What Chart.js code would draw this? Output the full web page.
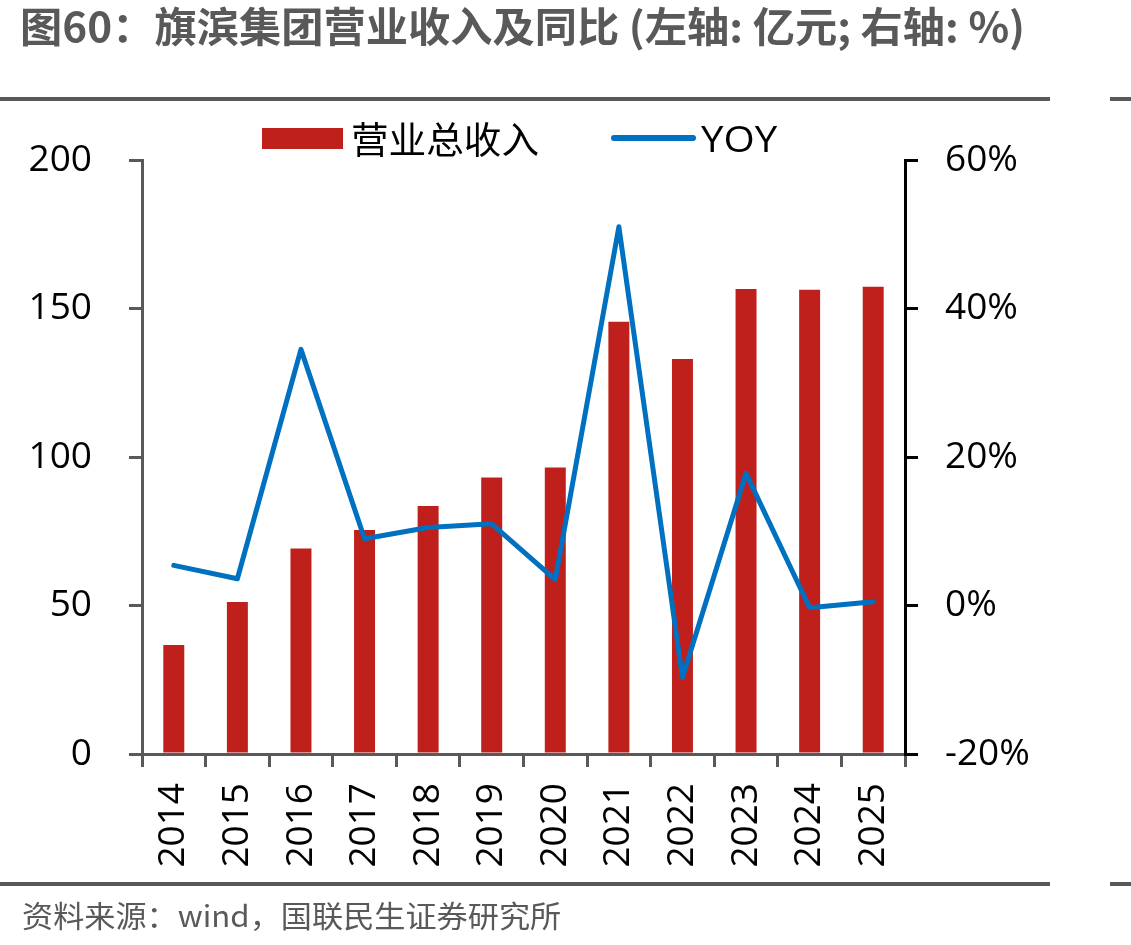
<!DOCTYPE html>
<html>
  <head>
    <meta charset="UTF-8">
    <title>旗滨集团营业收入及同比</title>
    <script src="https://cdn.jsdelivr.net/npm/chart.js"></script>
    <style>
      html, body { margin: 0; padding: 0; background: #fff; }
      #wrap { position: relative; width: 1131px; height: 945px; overflow: hidden; }
      #chart { position: absolute; left: 0; top: 0; }
      .title { position: absolute; left: 20px; top: 0; font: bold 41px "Noto Sans CJK SC"; line-height: 48px; color: #595959; white-space: nowrap; transform-origin: 0 0; }
      .rule { position: absolute; height: 4px; background: #595959; }
      .source { position: absolute; left: 22px; top: 897px; font: 30px "Noto Sans CJK SC"; line-height: 34px; color: #595959; white-space: nowrap; transform-origin: 0 0; }
      .lg-box { position: absolute; left: 262px; top: 128px; width: 81px; height: 21px; background: #C0201C; }
      .lg-line { position: absolute; left: 611px; top: 135px; width: 85px; height: 6px; border-radius: 3px; background: #0070C0; }
      .lg-text { position: absolute; top: 115px; font-size: 37px; line-height: 46px; color: #000; white-space: nowrap; transform-origin: 0 0; }
    </style>
  </head>
  <body>
    <div id="wrap">
      <canvas id="chart" width="1131" height="945"></canvas>
      <div class="title" id="title">图60：旗滨集团营业收入及同比 (左轴: 亿元; 右轴: %)</div>
      <div class="rule" style="left:0; top:97px; width:1050px;"></div>
      <div class="rule" style="left:1110px; top:97px; width:21px;"></div>
      <div class="rule" style="left:0; top:882px; width:1050px;"></div>
      <div class="rule" style="left:1110px; top:882px; width:21px;"></div>
      <div class="source" id="source">资料来源：wind，国联民生证券研究所</div>
      <div class="lg-box"></div>
      <div class="lg-text" id="lg1" style="left:351px; font-family:'Noto Sans CJK SC';">营业总收入</div>
      <div class="lg-line"></div>
      <div class="lg-text" id="lg2" style="left:701px; font-family:'Open Sans';">YOY</div>
    </div>

    <script>
      // データ
      var years = ['2014', '2015', '2016', '2017', '2018', '2019', '2020', '2021', '2022', '2023', '2024', '2025'];
      var revenue = [36.7, 51.2, 69.2, 75.4, 83.5, 93.1, 96.5, 145.5, 133.0, 156.6, 156.3, 157.3];
      var yoy = [5.4, 3.6, 34.5, 9.0, 10.5, 11.0, 3.5, 51.0, -9.7, 17.8, -0.3, 0.5];
      var leftTicks = [0, 50, 100, 150, 200];
      var rightTicks = [-20, 0, 20, 40, 60];

      // タイトル・出典・凡例の幅を合わせる
      function fitWidth(id, w) {
        var el = document.getElementById(id);
        el.style.transform = 'scaleX(' + (w / el.offsetWidth) + ')';
      }
      fitWidth('title', 1005);
      fitWidth('source', 539);
      fitWidth('lg1', 188);
      fitWidth('lg2', 76);

      var tickFont = { family: 'Open Sans', size: 37 };
      var gray = '#595959';

      var ctx = document.getElementById('chart').getContext('2d');
      var chart = new Chart(ctx, {
        data: {
          labels: years,
          datasets: [
            {
              type: 'line',
              label: 'YOY',
              data: yoy,
              yAxisID: 'y2',
              borderColor: '#0070C0',
              borderWidth: 5,
              pointRadius: 0,
              tension: 0,
              borderJoinStyle: 'round',
              borderCapStyle: 'round',
              order: 0
            },
            {
              type: 'bar',
              label: '营业总收入',
              data: revenue,
              yAxisID: 'y',
              backgroundColor: '#C0201C',
              categoryPercentage: 1,
              barPercentage: 0.33,
              order: 1
            }
          ]
        },
        options: {
          responsive: false,
          animation: false,
          layout: { padding: { top: 160, left: 0, right: 0, bottom: 0 } },
          plugins: { legend: { display: false }, tooltip: { enabled: false } },
          scales: {
            x: {
              offset: true,
              grid: { display: true, offset: true, drawOnChartArea: false, drawTicks: true, tickLength: 13, color: gray, lineWidth: 3 },
              border: { display: true, color: gray, width: 3 },
              ticks: { font: tickFont, color: '#000', minRotation: 90, maxRotation: 90, padding: 16, autoSkip: false },
              afterFit: function(scale) { scale.height = 191; }
            },
            y: {
              position: 'left',
              min: 0, max: 200,
              afterBuildTicks: function(scale) { scale.ticks = leftTicks.map(function(v) { return { value: v }; }); },
              grid: { display: true, drawOnChartArea: false, drawTicks: true, tickLength: 13, color: gray, lineWidth: 3 },
              border: { display: true, color: gray, width: 3 },
              ticks: { font: tickFont, color: '#000', padding: 37 },
              afterFit: function(scale) { scale.width = 142; }
            },
            y2: {
              position: 'right',
              min: -20, max: 60,
              afterBuildTicks: function(scale) { scale.ticks = rightTicks.map(function(v) { return { value: v }; }); },
              grid: { display: true, drawOnChartArea: false, drawTicks: true, tickLength: 13, color: '#000', lineWidth: 3 },
              border: { display: true, color: '#000', width: 3 },
              ticks: { font: tickFont, color: '#000', padding: 27, callback: function(v) { return v + '%'; } },
              afterFit: function(scale) { scale.width = 226; }
            }
          }
        }
      });
    </script>
  </body>
</html>
